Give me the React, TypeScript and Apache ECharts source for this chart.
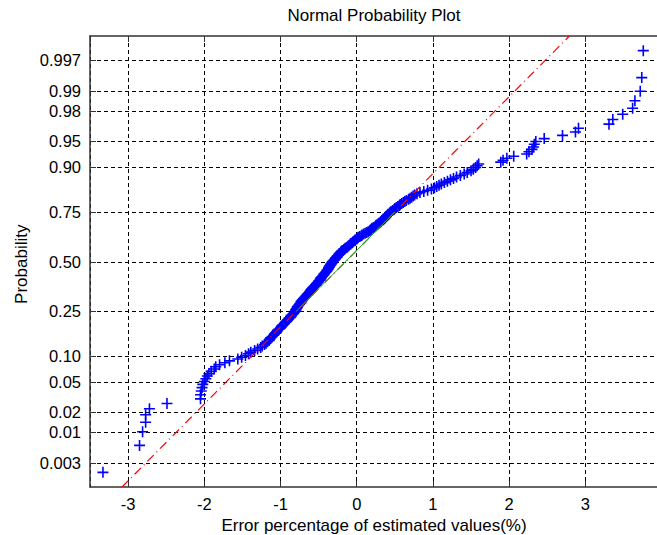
import React, { useEffect, useRef } from 'react';
import * as echarts from 'echarts';

// Sorted sample values (error %), one per "+" marker
const errorValues: number[] = [
  -3.33, -2.85, -2.81, -2.77, -2.77, -2.72, -2.49, -2.05, -2.05, -2.04, -2.03, -2.02,
  -2.00, -1.98, -1.96, -1.94, -1.91, -1.87, -1.85, -1.80, -1.73, -1.67, -1.56, -1.51,
  -1.46, -1.42, -1.39, -1.34, -1.30, -1.26, -1.24, -1.21, -1.19, -1.17, -1.15, -1.14,
  -1.13, -1.11, -1.09, -1.08, -1.06, -1.05, -1.04, -1.02, -1.00, -0.99, -0.98, -0.97,
  -0.95, -0.94, -0.93, -0.91, -0.90, -0.89, -0.87, -0.86, -0.86, -0.84, -0.83, -0.82,
  -0.81, -0.80, -0.80, -0.79, -0.78, -0.78, -0.77, -0.76, -0.75, -0.74, -0.73, -0.73,
  -0.72, -0.71, -0.70, -0.69, -0.68, -0.67, -0.66, -0.65, -0.64, -0.63, -0.62, -0.61,
  -0.60, -0.60, -0.59, -0.58, -0.57, -0.56, -0.55, -0.54, -0.53, -0.52, -0.51, -0.50,
  -0.50, -0.48, -0.48, -0.47, -0.47, -0.46, -0.45, -0.44, -0.43, -0.43, -0.42, -0.41,
  -0.40, -0.39, -0.39, -0.38, -0.37, -0.37, -0.36, -0.36, -0.35, -0.34, -0.34, -0.33,
  -0.32, -0.32, -0.31, -0.30, -0.29, -0.28, -0.28, -0.26, -0.26, -0.25, -0.24, -0.23,
  -0.23, -0.21, -0.21, -0.20, -0.19, -0.17, -0.16, -0.15, -0.13, -0.12, -0.11, -0.10,
  -0.08, -0.08, -0.06, -0.05, -0.04, -0.02, -0.02, 0.00, 0.01, 0.02, 0.04, 0.06,
  0.07, 0.09, 0.11, 0.13, 0.15, 0.17, 0.18, 0.19, 0.20, 0.22, 0.24, 0.25,
  0.26, 0.28, 0.29, 0.31, 0.32, 0.33, 0.35, 0.36, 0.37, 0.38, 0.39, 0.40,
  0.41, 0.43, 0.44, 0.45, 0.47, 0.49, 0.50, 0.52, 0.54, 0.56, 0.57, 0.59,
  0.61, 0.63, 0.65, 0.68, 0.70, 0.72, 0.74, 0.76, 0.79, 0.83, 0.88, 0.93,
  0.98, 1.02, 1.05, 1.08, 1.11, 1.15, 1.19, 1.23, 1.27, 1.31, 1.36, 1.41,
  1.45, 1.50, 1.53, 1.56, 1.58, 1.60, 1.89, 1.92, 1.97, 2.06, 2.23, 2.26,
  2.30, 2.32, 2.33, 2.35, 2.46, 2.70, 2.87, 2.91, 3.31, 3.36, 3.49, 3.62,
  3.65, 3.72, 3.74, 3.76,
];

// Probability axis ticks
const probTickValues: number[] = [0.003, 0.01, 0.02, 0.05, 0.1, 0.25, 0.5, 0.75, 0.9, 0.95, 0.98, 0.99, 0.997];
const probTickLabels: string[] = ['0.003', '0.01', '0.02', '0.05', '0.10', '0.25', '0.50', '0.75', '0.90', '0.95', '0.98', '0.99', '0.997'];

// Reference line through the quartiles
const fitQuartileP: number[] = [0.25, 0.75];
const fitQuartileX: number[] = [-0.79, 0.5];

// Axis limits
const xLimits: number[] = [-3.5, 3.94];
const zLimits: number[] = [-3.07, 3.07];

const FONT = '"Liberation Sans", Arial, Helvetica, sans-serif';

// inverse standard normal CDF (probability axis scale)
function normInv(p: number): number {
  const a = [-3.969683028665376e1, 2.209460984245205e2, -2.759285104469687e2, 1.38357751867269e2, -3.066479806614716e1, 2.506628277459239];
  const b = [-5.447609879822406e1, 1.615858368580409e2, -1.556989798598866e2, 6.680131188771972e1, -1.328068155288572e1];
  const c = [-7.784894002430293e-3, -3.223964580411365e-1, -2.400758277161838, -2.549671010115448, 4.374664141464968, 2.938163982698783];
  const d = [7.784695709041462e-3, 3.224671290700398e-1, 2.445134137142996, 3.754408661907416];
  const plow = 0.02425;
  const phigh = 1 - plow;
  if (p < plow) {
    const q = Math.sqrt(-2 * Math.log(p));
    return (((((c[0] * q + c[1]) * q + c[2]) * q + c[3]) * q + c[4]) * q + c[5]) / ((((d[0] * q + d[1]) * q + d[2]) * q + d[3]) * q + 1);
  }
  if (p <= phigh) {
    const q = p - 0.5;
    const r = q * q;
    return ((((((a[0] * r + a[1]) * r + a[2]) * r + a[3]) * r + a[4]) * r + a[5]) * q) / (((((b[0] * r + b[1]) * r + b[2]) * r + b[3]) * r + b[4]) * r + 1);
  }
  const q = Math.sqrt(-2 * Math.log(1 - p));
  return -(((((c[0] * q + c[1]) * q + c[2]) * q + c[3]) * q + c[4]) * q + c[5]) / ((((d[0] * q + d[1]) * q + d[2]) * q + d[3]) * q + 1);
}

const PLUS = 'path://M4.7,0h1.6v4.7h4.7v1.6h-4.7v4.7h-1.6v-4.7h-4.7v-1.6h4.7z';

export default function App() {
  const ref = useRef<HTMLDivElement>(null);
  useEffect(() => {
    if (!ref.current) return;
    const chart = echarts.init(ref.current, undefined, { renderer: 'svg' });
    const n = errorValues.length;
    const points = errorValues.map((x, i) => [x, normInv((i + 0.5) / n)]);
    const z1 = normInv(fitQuartileP[0]);
    const z2 = normInv(fitQuartileP[1]);
    const slope = (fitQuartileX[1] - fitQuartileX[0]) / (z2 - z1);
    const xAt = (z: number) => fitQuartileX[0] + (z - z1) * slope;
    const refLine = [[xAt(zLimits[0]), zLimits[0]], [xAt(zLimits[1]), zLimits[1]]];
    const fitLine = [[fitQuartileX[0], z1], [fitQuartileX[1], z2]];
    const tickData = probTickValues.map((p) => [xLimits[0], normInv(p)]);

    const option: any = {
      animation: false,
      backgroundColor: '#ffffff',
      grid: { left: 90, top: 36, width: 572, height: 451, containLabel: false },
      xAxis: [
        {
          type: 'value',
          min: xLimits[0],
          max: xLimits[1],
          minInterval: 1,
          maxInterval: 1,
          position: 'bottom',
          axisLine: { show: true, onZero: false, lineStyle: { color: '#333', width: 1.5 } },
          axisTick: { show: true, inside: true, length: 6, lineStyle: { color: '#333', width: 1 } },
          axisLabel: { show: true, fontSize: 16.5, fontFamily: FONT, color: '#000', margin: 8, showMinLabel: false, showMaxLabel: false },
          splitLine: { show: true, lineStyle: { color: '#000', width: 1, type: [4, 3] } },
        },
        {
          type: 'value',
          min: xLimits[0],
          max: xLimits[1],
          minInterval: 1,
          maxInterval: 1,
          position: 'top',
          axisLine: { show: true, onZero: false, lineStyle: { color: '#333', width: 1.5 } },
          axisTick: { show: true, inside: true, length: 6, lineStyle: { color: '#333', width: 1 } },
          axisLabel: { show: false },
          splitLine: { show: false },
        },
      ],
      yAxis: {
        type: 'value',
        min: zLimits[0],
        max: zLimits[1],
        axisLine: { show: true, onZero: false, lineStyle: { color: '#333', width: 1.5 } },
        axisTick: { show: false },
        axisLabel: { show: false },
        splitLine: { show: false },
      },
      graphic: [
        { type: 'text', x: 374, y: 15.6, style: { text: 'Normal Probability Plot', fontSize: 17, fontFamily: FONT, fill: '#000', align: 'center', verticalAlign: 'middle' } },
        { type: 'text', x: 374, y: 525.5, style: { text: 'Error percentage of estimated values(%)', fontSize: 17, fontFamily: FONT, fill: '#000', align: 'center', verticalAlign: 'middle' } },
        { type: 'text', x: 21.3, y: 264.2, rotation: Math.PI / 2, style: { text: 'Probability', fontSize: 17, fontFamily: FONT, fill: '#000', align: 'center', verticalAlign: 'middle' } },
      ],
      series: [
        {
          type: 'custom',
          z: 1,
          clip: false,
          silent: true,
          encode: { x: 0, y: 1 },
          data: tickData,
          renderItem: (params: any, api: any) => {
            const z = api.value(1);
            const pt = api.coord([xLimits[0], z]);
            const cs = params.coordSys;
            const y = Math.round(pt[1]) + 0.5;
            return {
              type: 'group',
              children: [
                { type: 'line', shape: { x1: cs.x, y1: y, x2: cs.x + cs.width, y2: y }, style: { stroke: '#000', lineWidth: 1, lineDash: [4, 3] } },
                { type: 'line', shape: { x1: cs.x, y1: y, x2: cs.x + 6, y2: y }, style: { stroke: '#333', lineWidth: 1 } },
                {
                  type: 'text',
                  style: { text: probTickLabels[params.dataIndex], x: cs.x - 9, y: pt[1], align: 'right', verticalAlign: 'middle', fontSize: 16.5, fontFamily: FONT, fill: '#000' },
                },
              ],
            };
          },
        },
        {
          type: 'scatter',
          z: 3,
          data: points,
          symbol: PLUS,
          symbolSize: 11,
          itemStyle: { color: '#0000ff', opacity: 1 },
          silent: true,
        },
        {
          type: 'line',
          z: 4,
          data: refLine,
          showSymbol: false,
          symbol: 'none',
          lineStyle: { color: '#ff0000', width: 1.2, type: [9, 4, 1, 4] },
          silent: true,
        },
        {
          type: 'line',
          z: 5,
          data: fitLine,
          showSymbol: false,
          symbol: 'none',
          lineStyle: { color: '#2fa02f', width: 1 },
          silent: true,
        },
      ],
    };
    chart.setOption(option);
    return () => chart.dispose();
  }, []);
  return <div ref={ref} style={{ position: 'absolute', left: 0, top: 0, width: 657, height: 535 }} />;
}
